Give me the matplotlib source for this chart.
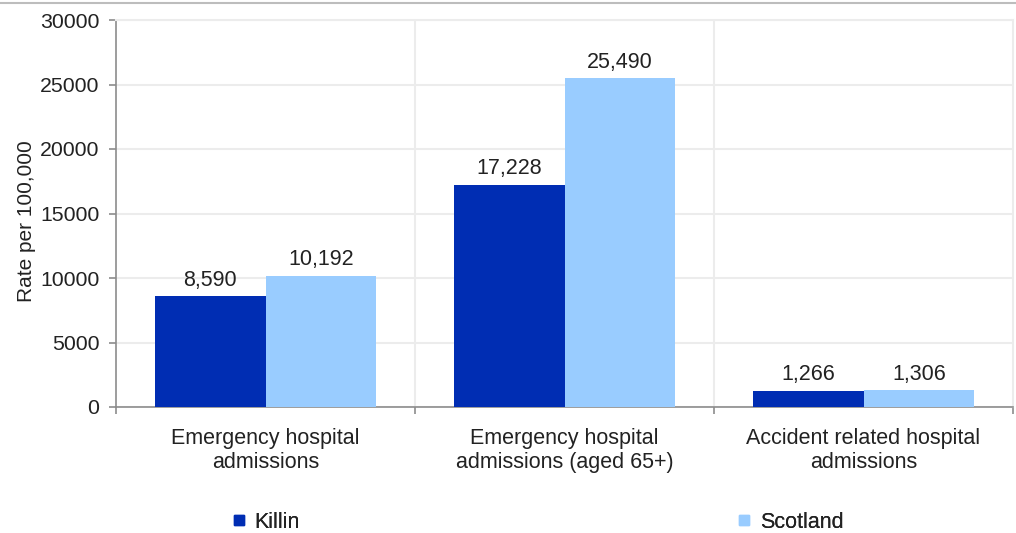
import matplotlib.pyplot as plt
import numpy as np
from matplotlib.lines import Line2D

plt.rcParams['font.family'] = ['Liberation Sans', 'DejaVu Sans']

categories = ['Emergency hospital\nadmissions',
              'Emergency hospital\nadmissions (aged 65+)',
              'Accident related hospital\nadmissions']
killin = [8590, 17228, 1266]
scotland = [10192, 25490, 1306]
y_ticks = [0, 5000, 10000, 15000, 20000, 25000, 30000]

killin_colour = '#002db3'
scotland_colour = '#99ccff'
grid_colour = '#ececec'
axis_colour = '#8c8c8c'
text_colour = '#222222'
fs = 15.5

fig = plt.figure(figsize=(10.16, 5.33), dpi=100)
ax = fig.add_axes([116 / 1016, 1 - 407 / 533, 897 / 1016, 387 / 533])

x = np.arange(len(categories))
width = 0.371

bars_k = ax.bar(x - width / 2, killin, width, color=killin_colour, zorder=3)
bars_s = ax.bar(x + width / 2, scotland, width, color=scotland_colour, zorder=3)

for bars, vals in ((bars_k, killin), (bars_s, scotland)):
    for b, v in zip(bars, vals):
        ax.annotate(f'{v:,}', (b.get_x() + b.get_width() / 2, v),
                    xytext=(0, 4), textcoords='offset points',
                    ha='center', va='bottom', fontsize=fs, color=text_colour)

ax.set_xlim(-0.5, len(categories) - 0.5)
ax.set_ylim(0, 30000)
ax.set_yticks(y_ticks)
ax.set_yticklabels([str(t) for t in y_ticks])

# major ticks on the category boundaries, labels on minor ticks at centres
ax.set_xticks(np.arange(len(categories) + 1) - 0.5)
ax.set_xticklabels([])
ax.set_xticks(x, minor=True)
ax.set_xticklabels(categories, minor=True, fontsize=fs, color=text_colour)
ax.tick_params(axis='x', which='minor', length=0, pad=15)
ax.tick_params(axis='x', which='major', length=5, width=1.2, color=axis_colour)
ax.tick_params(axis='y', length=5, width=1.2, color=axis_colour, pad=7,
               labelsize=15.3, labelcolor=text_colour)

ax.grid(axis='y', color=grid_colour, linewidth=1.5, zorder=0)
for b in x[:-1] + 0.5:
    ax.axvline(b, color=grid_colour, linewidth=1.5, zorder=0)

ax.spines['left'].set_color(axis_colour)
ax.spines['bottom'].set_color(axis_colour)
ax.spines['left'].set_linewidth(1.2)
ax.spines['bottom'].set_linewidth(1.2)
ax.spines['top'].set_color(grid_colour)
ax.spines['right'].set_color(grid_colour)
ax.spines['top'].set_linewidth(1.5)
ax.spines['right'].set_linewidth(1.5)

ax.set_ylabel('Rate per 100,000', fontsize=15, color=text_colour)
ax.yaxis.set_label_coords(-0.089, 0.48)

# legend entries sit far apart along the bottom
h_k = Line2D([], [], marker='s', linestyle='none', markersize=7,
             color=killin_colour, label='Killin')
h_s = Line2D([], [], marker='s', linestyle='none', markersize=7,
             color=scotland_colour, label='Scotland')
leg_y = 1 - 522 / 533
for h, lx in ((h_k, 231 / 1016), (h_s, 736 / 1016)):
    leg = fig.legend(handles=[h], loc='center left', bbox_to_anchor=(lx, leg_y),
                     frameon=False, fontsize=fs, handlelength=0.7,
                     handletextpad=0.4, borderpad=0, borderaxespad=0)
    for t in leg.get_texts():
        t.set_color(text_colour)
    fig.add_artist(leg)

fig.add_artist(Line2D([0, 1], [1 - 2.5 / 533, 1 - 2.5 / 533],
                      transform=fig.transFigure, color='#bdbdbd', linewidth=1.5))

fig.savefig('out.png', dpi=100)
